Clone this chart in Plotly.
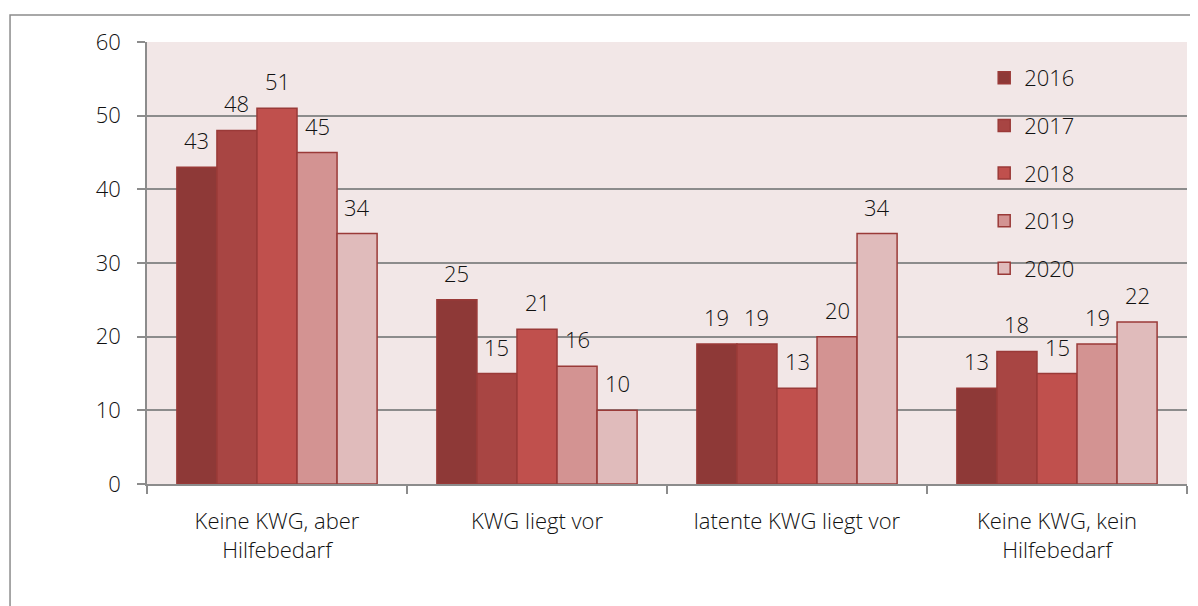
import plotly.graph_objects as go

kategorien = ["Keine KWG, aber<br>Hilfebedarf", "KWG liegt vor",
              "latente KWG liegt vor", "Keine KWG, kein<br>Hilfebedarf"]
jahre = ["2016", "2017", "2018", "2019", "2020"]
werte = {
    "2016": [43, 25, 19, 13],
    "2017": [48, 15, 19, 18],
    "2018": [51, 21, 13, 15],
    "2019": [45, 16, 20, 19],
    "2020": [34, 10, 34, 22],
}
y_ticks = [0, 10, 20, 30, 40, 50, 60]

farben = {
    "2016": "#8E3937",
    "2017": "#A84543",
    "2018": "#C0504D",
    "2019": "#D39392",
    "2020": "#E0BBBB",
}

# Seite hat 8px body-margin -> Figur etwas kleiner
W, H = 1190, 598
ML, MR, MT, MB = 139, 11, 34, 122
plot_w = W - ML - MR
bargap = 0.23
bar_px = plot_w / len(kategorien) * (1 - bargap) / len(jahre)

fig = go.Figure()
annots = []
for i, j in enumerate(jahre):
    fig.add_trace(go.Bar(
        name=j, x=kategorien, y=werte[j], legendgroup=j,
        marker=dict(color=farben[j], line=dict(color="#9A3A38", width=1.5)),
    ))
    for k, v in zip(kategorien, werte[j]):
        annots.append(dict(x=k, y=v, text=str(v), showarrow=False,
                           xref="x", yref="y", yanchor="bottom",
                           xshift=(i - 2) * bar_px, yshift=10,
                           font=dict(size=22, color="#111111")))

fig.update_layout(
    width=W, height=H,
    margin=dict(l=ML, r=MR, t=MT, b=MB),
    barmode="group", bargap=bargap, bargroupgap=0,
    plot_bgcolor="#F2E7E7", paper_bgcolor="white",
    font=dict(family="Open Sans", size=22, color="#111111", weight=300),
    legend=dict(x=0.805, y=0.966, xanchor="left", yanchor="top",
                traceorder="grouped", tracegroupgap=16,
                bgcolor="rgba(0,0,0,0)", font=dict(size=22)),
    annotations=annots,
    shapes=[dict(type="rect", xref="paper", yref="paper",
                 x0=-0.1317, x1=1.03, y0=-0.4, y1=1.061,
                 line=dict(color="#8C8C8C", width=1.5))],
)
fig.update_xaxes(showline=True, linecolor="#8C8C8C", linewidth=1.5,
                 ticks="outside", tickson="boundaries", ticklen=8,
                 tickcolor="#8C8C8C", tickwidth=1.5, showgrid=False,
                 ticklabelstandoff=17)
fig.update_yaxes(range=[0, 60], tickvals=y_ticks, showline=True,
                 linecolor="#8C8C8C", linewidth=1.5, ticks="outside",
                 ticklen=8, tickcolor="#8C8C8C", tickwidth=1.5,
                 gridcolor="#8C8C8C", gridwidth=1.5, zeroline=False,
                 ticklabelstandoff=12)

fig.write_html("out.html")
